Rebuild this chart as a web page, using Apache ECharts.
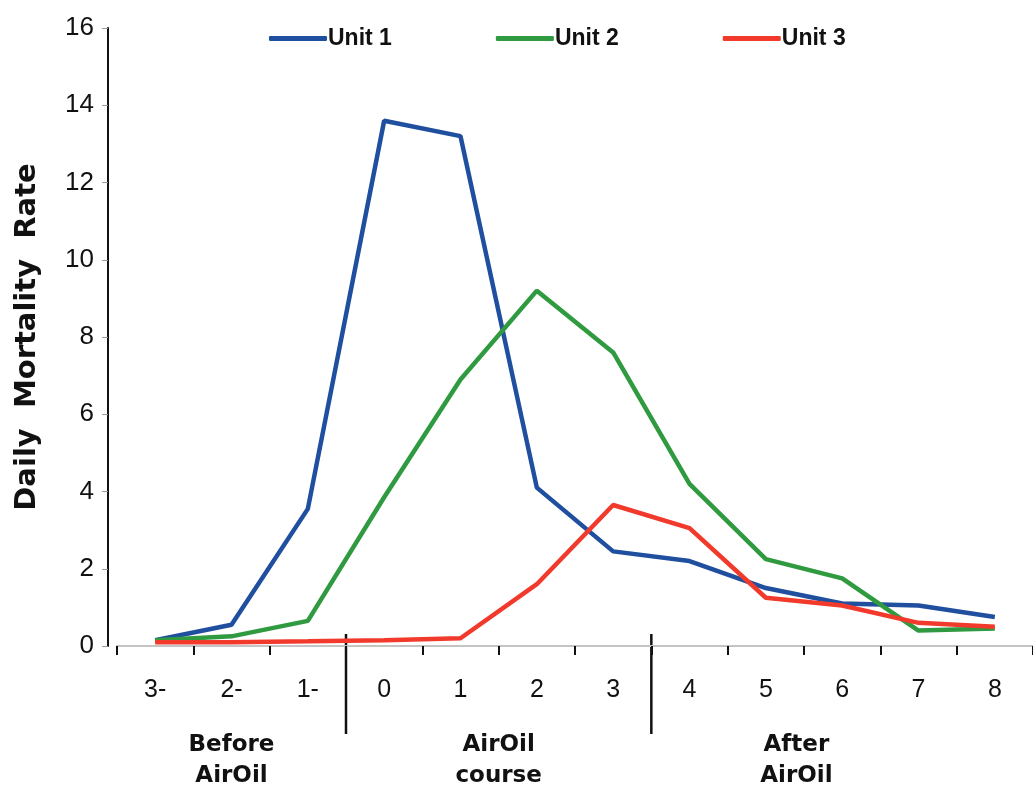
<!DOCTYPE html>
<html>
<head>
<meta charset="utf-8">
<script src="https://cdn.jsdelivr.net/npm/echarts@6/dist/echarts.min.js"></script>
<style>
html,body{margin:0;padding:0;background:#fff;}
#main{width:1033px;height:790px;}
</style>
</head>
<body>
<div id="main"></div>
<script>
const categories = ['3-','2-','1-','0','1','2','3','4','5','6','7','8'];
const unit1 = [0.15, 0.55, 3.55, 13.6, 13.2, 4.1, 2.45, 2.2, 1.5, 1.1, 1.05, 0.75];
const unit2 = [0.15, 0.25, 0.65, 3.85, 6.9, 9.2, 7.6, 4.2, 2.25, 1.75, 0.4, 0.45];
const unit3 = [0.1, 0.1, 0.12, 0.15, 0.2, 1.6, 3.65, 3.05, 1.25, 1.05, 0.6, 0.5];
const seriesNames = ['Unit 1','Unit 2','Unit 3'];
const seriesColors = ['#1f4f9e','#2f9a40','#f23a2c'];
const yTicks = {min:0, max:16, interval:2};
const groups = [
  {label:'Before\nAirOil', from:0, to:2},
  {label:'AirOil\ncourse', from:3, to:6},
  {label:'After\nAirOil', from:7, to:11}
];
const groupCenters = [1, 4.5, 8.4];
const separators = [2.5, 6.5];

const narrow = '"Liberation Sans Narrow","Arial Narrow","Liberation Sans",Arial,sans-serif';
const chart = echarts.init(document.getElementById('main'));
const data = [unit1, unit2, unit3];
chart.setOption({
  backgroundColor:'#fff',
  animation:false,
  grid:{left:117, right:-5, top:28, bottom:144, containLabel:false},
  legend:{
    top:22, left:264, itemWidth:58, itemHeight:5, itemGap:104,
    icon:'roundRect',
    textStyle:{fontFamily:narrow, fontSize:23, fontWeight:'bold', color:'#111', padding:[0,0,0,-4]},
    data:seriesNames
  },
  xAxis:{
    type:'category', data:categories, boundaryGap:true,
    axisLine:{lineStyle:{color:'#c4c4c4', width:2}},
    axisTick:{show:true, interval:0, length:9, lineStyle:{color:'#111', width:2}},
    axisLabel:{interval:0, margin:32, fontFamily:narrow, fontSize:25, color:'#111'},
    splitLine:{show:false}
  },
  yAxis:{
    type:'value', min:yTicks.min, max:yTicks.max, interval:yTicks.interval, offset:9,
    name:'Daily  Mortality  Rate', nameLocation:'middle', nameGap:66,
    nameTextStyle:{fontFamily:'"DejaVu Sans",Verdana,sans-serif', fontSize:29, fontWeight:'bold', color:'#111'},
    axisLine:{show:true, lineStyle:{color:'#111', width:2}},
    axisTick:{show:true, length:6, lineStyle:{color:'#999', width:1}},
    axisLabel:{margin:14, fontFamily:narrow, fontSize:26, color:'#111'},
    splitLine:{show:false}
  },
  series: seriesNames.map((n,i)=>({
    name:n, type:'line', data:data[i], symbol:'none',
    lineStyle:{color:seriesColors[i], width:4.5},
    itemStyle:{color:seriesColors[i]},
    z: i===2 ? 5 : 3
  }))
});

function xPix(idx){
  const lo = Math.floor(idx), hi = Math.ceil(idx);
  const a = chart.convertToPixel({xAxisIndex:0}, categories[lo]);
  const b = chart.convertToPixel({xAxisIndex:0}, categories[hi]);
  return a + (b - a) * (idx - lo);
}
const y0 = chart.convertToPixel({yAxisIndex:0}, 0);
const graphics = [];
separators.forEach(s=>{
  const x = xPix(s);
  graphics.push({type:'line', shape:{x1:x, y1:y0-12, x2:x, y2:y0+88}, style:{stroke:'#111', lineWidth:2.5}});
});
groups.forEach((g,i)=>{
  const x = xPix(groupCenters[i]);
  graphics.push({type:'text', x:x, y:y0+84, style:{text:g.label, fontFamily:'"DejaVu Sans",Verdana,sans-serif', fontSize:23, fontWeight:'bold', fill:'#111', align:'center', verticalAlign:'top', lineHeight:31}});
});
chart.setOption({graphic:graphics});
</script>
</body>
</html>
